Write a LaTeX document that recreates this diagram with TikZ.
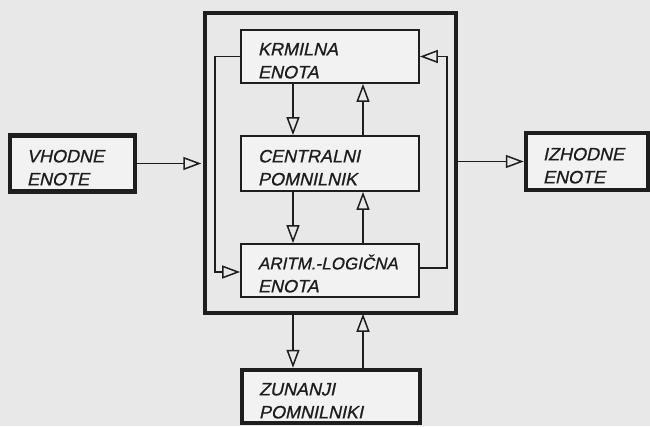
\documentclass[tikz,border=0pt]{standalone}
\usepackage{fontspec}
\setmainfont{Liberation Sans}
\newfontfamily\labfont{Liberation Sans}[FakeBold=0.8, FakeSlant=0.22]
\usetikzlibrary{arrows.meta}
\definecolor{bgc}{HTML}{E8E8E8}
\definecolor{boxc}{HTML}{F2F2F2}
\definecolor{ink}{HTML}{1E1E1E}
\newcommand\dn{\rule{0pt}{21pt}}
\begin{document}
\begin{tikzpicture}[x=1pt,y=-1pt,
  lbl/.style={font=\labfont\fontsize{18}{23}\selectfont, text=ink, align=left, inner xsep=17pt, inner ysep=0pt},
  thinbox/.style={lbl, draw=ink, line width=1.8pt, fill=boxc},
  thickbox/.style={lbl, draw=ink, line width=4.5pt, fill=boxc},
  arr/.style={draw=ink, line width=1.5pt, -{Triangle[open, length=18pt, width=13pt, line width=1.5pt]}}]
\useasboundingbox[fill=bgc] (0,0) rectangle (650,426);
% outer computer box
\node[draw=ink, line width=4.5pt, minimum width=251pt, minimum height=300pt, inner sep=0pt] (outer) at (330.5,163) {};
% inner units
\node[thinbox, text width=144pt, minimum height=53pt] (kr) at (330,56.5) {\dn KRMILNA\\ENOTA};
\node[thinbox, text width=144pt, minimum height=55pt] (ce) at (330,163.5) {\dn CENTRALNI\\POMNILNIK};
\node[thinbox, text width=144pt, minimum height=53pt] (al) at (330,270.5) {\dn \mbox{\fontsize{17}{23}\selectfont ARITM.-LOGIČNA}\\ENOTA};
% outside units
\node[thickbox, text width=91pt, minimum height=56pt] (vh) at (72.5,163.5) {\dn VHODNE\\ENOTE};
\node[thickbox, text width=88pt, minimum height=57pt] (iz) at (587,161.5) {\dn IZHODNE\\ENOTE};
\node[thickbox, text width=144pt, minimum height=53pt] (zu) at (331,396.5) {\dn ZUNANJI\\POMNILNIKI};
% helper coordinates
\coordinate (xa) at (293,0);
\coordinate (xb) at (363,0);
\coordinate (lx) at (215,0);
\coordinate (rx) at (447,0);
% connectors
\draw[arr] (vh.east) -- ([xshift=-1.5pt]vh.east -| outer.west);
\draw[arr] (iz.west -| outer.east) -- (iz.west);
\draw[arr] (kr.south -| xa) -- (ce.north -| xa);
\draw[arr] (ce.north -| xb) -- (kr.south -| xb);
\draw[arr] (ce.south -| xa) -- (al.north -| xa);
\draw[arr] (al.north -| xb) -- (ce.south -| xb);
\draw[arr] (outer.south -| xa) -- (zu.north -| xa);
\draw[arr] (zu.north -| xb) -- ([yshift=1.5pt]outer.south -| xb);
\draw[arr] (kr.west) -- (kr.west -| lx) |- ([yshift=-1.5pt]al.west);
\draw[arr] ([yshift=2.5pt]al.east) -- ([yshift=2.5pt]al.east -| rx) |- (kr.east);
\end{tikzpicture}
\end{document}
